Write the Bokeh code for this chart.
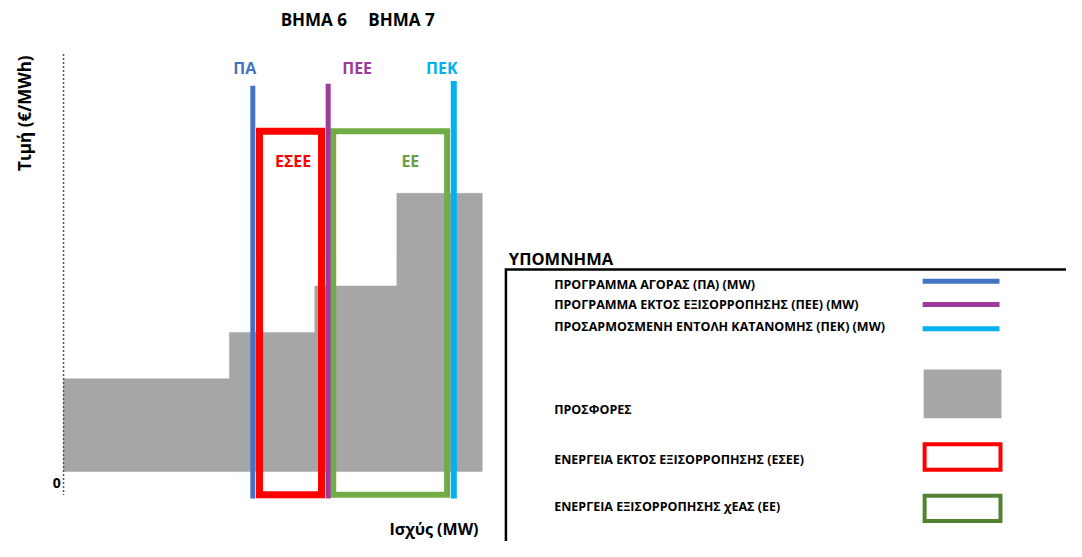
import math
from bokeh.plotting import figure
from bokeh.models import Range1d, Label
from bokeh.embed import file_html
from bokeh.resources import INLINE

# ---------------- data ----------------
offer_edges_mw = [0, 99, 150, 199, 250]        # MW boundaries of the offer steps
offer_prices = [100, 150, 200, 300]            # €/MWh of each offer step
schedule_names = ["ΠΑ", "ΠΕΕ", "ΠΕΚ"]
schedule_mw = [113, 158, 233]
schedule_top = [416, 418, 421]
schedule_bottom = -29
schedule_colors = ["#4472C4", "#9E3A9A", "#00B0F0"]
esee_mw = [117, 154]                            # ΕΣΕΕ box (MW)
ee_mw = [161, 229]                              # ΕΕ box (MW)
box_price = [-25, 367]                          # both boxes (€/MWh)
step_labels = ["ΒΗΜΑ 6", "ΒΗΜΑ 7"]
legend_title = "ΥΠΟΜΝΗΜΑ"
legend_texts = [
    "ΠΡΟΓΡΑΜΜΑ ΑΓΟΡΑΣ (ΠΑ) (MW)",
    "ΠΡΟΓΡΑΜΜΑ ΕΚΤΟΣ ΕΞΙΣΟΡΡΟΠΗΣΗΣ (ΠΕΕ) (MW)",
    "ΠΡΟΣΑΡΜΟΣΜΕΝΗ ΕΝΤΟΛΗ ΚΑΤΑΝΟΜΗΣ (ΠΕΚ) (MW)",
    "ΠΡΟΣΦΟΡΕΣ",
    "ΕΝΕΡΓΕΙΑ ΕΚΤΟΣ ΕΞΙΣΟΡΡΟΠΗΣΗΣ (ΕΣΕΕ)",
    "ΕΝΕΡΓΕΙΑ ΕΞΙΣΟΡΡΟΠΗΣΗΣ χΕΑΣ (ΕΕ)",
]

# ---------------- geometry ----------------
W, H = 1066, 541
REF_W, REF_H = 1082, 557
X0, KX = 64.0, 1.7      # layout px of 0 MW, px per MW
Y0, KY = 485.0, 0.955   # layout px of 0 €/MWh, px per €/MWh


def dx(px):
    return (px - X0) / KX


def dy(py):
    return (Y0 - py) / KY


FONT = "Open Sans"

p = figure(width=W, height=H, output_backend="svg", toolbar_location=None,
           x_range=Range1d(dx(0), dx(REF_W)), y_range=Range1d(dy(REF_H), dy(0)),
           x_axis_location=None, y_axis_location=None, min_border=0,
           outline_line_color=None, background_fill_color="white")
p.grid.visible = False

# offers: one step-shaped polygon built from the offer arrays (no seams)
step_x, step_y = [offer_edges_mw[0]], [0]
for i, price in enumerate(offer_prices):
    step_x += [offer_edges_mw[i], offer_edges_mw[i + 1]]
    step_y += [price, price]
step_x.append(offer_edges_mw[-1])
step_y.append(0)
p.patch(x=step_x, y=step_y, fill_color="#A6A6A6", line_color="#A6A6A6", line_width=0.5)

# dotted price axis
p.line(x=[0, 0], y=[dy(55), dy(509)], line_color="#555555", line_width=1.5, line_dash="2 2")

# energy boxes
p.quad(left=esee_mw[0], right=esee_mw[1], bottom=box_price[0], top=box_price[1],
       fill_color=None, line_color="#FF0000", line_width=7, line_join="miter")
p.quad(left=ee_mw[0], right=ee_mw[1], bottom=box_price[0], top=box_price[1],
       fill_color=None, line_color="#70AD47", line_width=6, line_join="miter")

# schedule lines
widths = [5, 5, 6]
for mw, top, col, w in zip(schedule_mw, schedule_top, schedule_colors, widths):
    p.line(x=[mw, mw], y=[schedule_bottom, top], line_color=col, line_width=w)


def label(px, py, text, size, color="black", align="center", angle=0.0):
    p.add_layout(Label(x=dx(px), y=dy(py), text=text, text_font=FONT, text_font_style="bold",
                       text_font_size=f"{size}px", text_color=color, text_align=align,
                       text_baseline="middle", angle=angle))


# chart texts
label(318, 20, step_labels[0], 17)
label(407, 20, step_labels[1], 17)
label(248, 70, schedule_names[0], 16, schedule_colors[0])
label(362, 70, schedule_names[1], 16, schedule_colors[1])
label(448, 70, schedule_names[2], 16, schedule_colors[2])
label(297, 165, "ΕΣΕΕ", 16, "#FF0000")
label(416, 165, "ΕΕ", 16, "#6A9E3E")
label(24, 116, "Τιμή (€/MWh)", 17, angle=math.pi / 2)
label(57, 497, "0", 14)
label(440, 544, "Ισχύς (MW)", 16)

# legend
label(516, 266, legend_title, 16.5, align="left")
p.line(x=[dx(513), dx(513), dx(1100)], y=[dy(600), dy(277), dy(277)],
       line_color="black", line_width=2.5, line_join="miter")
text_y = [292, 313, 336, 421, 473, 521]
for ty, t in zip(text_y, legend_texts):
    label(562, ty, t, 12.5, align="left")

for py, col in zip([289, 313, 338], schedule_colors):
    p.line(x=[dx(936), dx(1014)], y=[dy(py), dy(py)], line_color=col, line_width=5)
p.quad(left=dx(937), right=dx(1016), bottom=dy(430), top=dy(380),
       fill_color="#A6A6A6", line_color=None)
p.quad(left=dx(938), right=dx(1015), bottom=dy(483), top=dy(457),
       fill_color=None, line_color="#FF0000", line_width=4, line_join="miter")
p.quad(left=dx(938), right=dx(1015), bottom=dy(536), top=dy(510),
       fill_color=None, line_color="#548235", line_width=4, line_join="miter")

with open("out.html", "w", encoding="utf-8") as f:
    f.write(file_html(p, INLINE))
